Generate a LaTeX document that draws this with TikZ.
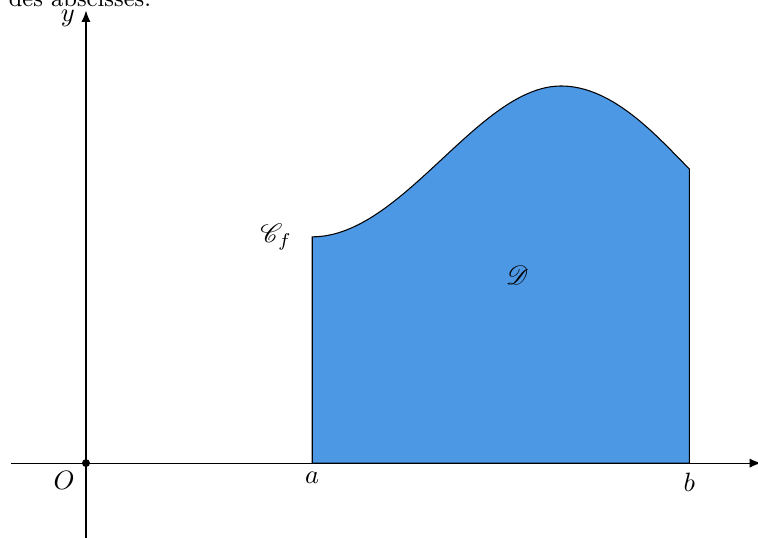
\documentclass[tikz,border=0pt]{standalone}
\usepackage{amsmath, amssymb}
\usepackage{mathrsfs}
\usepackage{tikz}
\usetikzlibrary{arrows.meta, calc, positioning}

\definecolor{bleuaire}{RGB}{77,152,228}

\begin{document}
\begin{tikzpicture}[
        axe/.style={-{Latex[length=1.5mm,width=1.2mm]}},
        domaine/.style={fill=bleuaire, draw=black},
        etiquette/.style={inner sep=1pt}]
        \useasboundingbox (-1.14,-0.98) rectangle (8.91,6.14);

        % end of the sentence above the figure
        \node[anchor=base west, inner sep=0pt, font=\small] (texte) at (-1.03,6.05) {des abscisses.};

        % points of the curve
        \coordinate (O) at (0,0);
        \coordinate (a) at (3,0);
        \coordinate (b) at (8,0);
        \coordinate (fa) at (3,3);
        \coordinate (sommet) at (6.3,5);
        \coordinate (fb) at (8,3.9);

        % area under the curve between a and b
        \draw[domaine] (a) -- (fa)
            .. controls (4.2,3) and (5.2,5) .. (sommet)
            .. controls (7,5) and (7.6,4.3) .. (fb)
            -- (b) -- cycle;

        % axes
        \coordinate (xmin) at (-1,0);
        \coordinate (xmax) at (8.95,0);
        \coordinate (ymin) at (0,-1);
        \coordinate (ymax) at (0,6);
        \draw[axe] (xmin) -- (xmax);
        \draw[axe] (ymin) -- (ymax);
        \fill (O) circle (1.5pt);

        % Labels
        \node[etiquette] (lO) at (-0.29,-0.23) {$O$};
        \node[etiquette] (la) at (3,-0.19) {$a$};
        \node[etiquette] (lb) at (8,-0.26) {$b$};
        \node[etiquette] (lx) at (9.02,-0.17) {$x$};
        \node[etiquette] (ly) at (-0.24,5.9) {$y$};
        \node[etiquette] (lC) at (2.52,3.0) {$\mathscr{C}_f$};
        \node[etiquette] (lD) at (5.72,2.49) {$\mathscr{D}$};
    \end{tikzpicture}
\end{document}
